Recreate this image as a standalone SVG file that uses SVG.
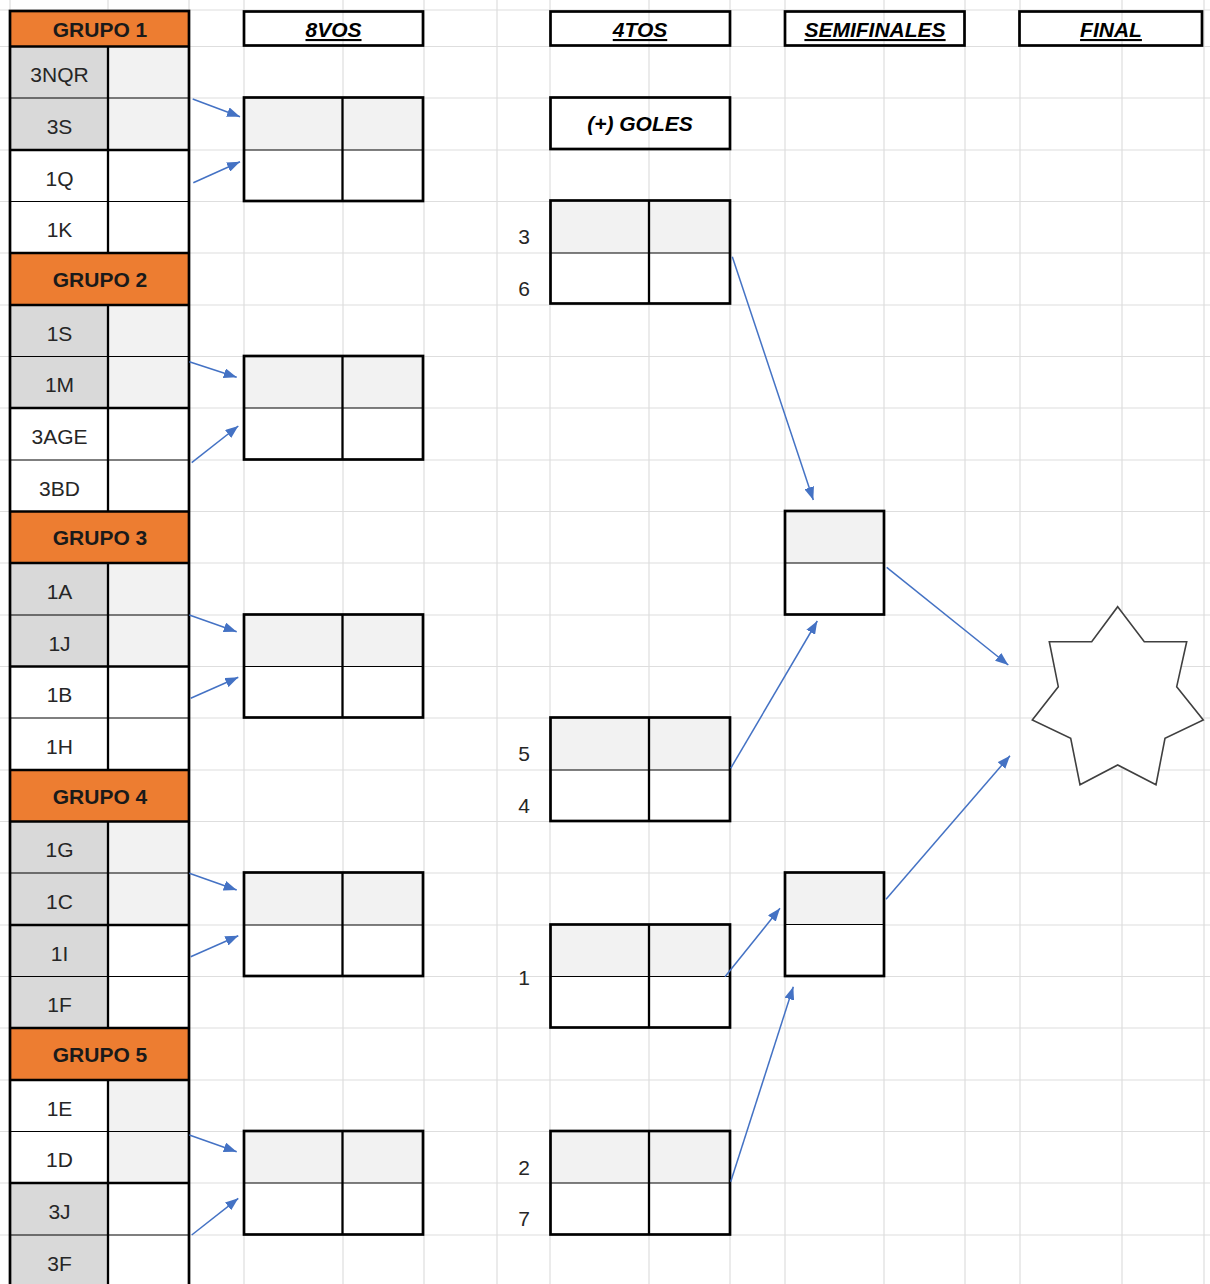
<svg xmlns="http://www.w3.org/2000/svg" width="1210" height="1284" viewBox="0 0 1210 1284">
<defs>
<marker id="ah" markerWidth="13" markerHeight="10" refX="13" refY="5" orient="auto" markerUnits="userSpaceOnUse"><path d="M0,0 L13,5 L0,10 z" fill="#4472C4"/></marker>
</defs>
<style>
.grid line{stroke:#dedede;stroke-width:1.2}
.hdr{fill:#ED7D31}
.lab{fill:#d9d9d9}
.val{fill:#f2f2f2}
.wh{fill:#ffffff}
.thick{stroke:#000;stroke-width:2.7;fill:none}
.mid{stroke:#000;stroke-width:2.3;fill:none}
.thin{stroke:#000;stroke-width:1.2;fill:none}
.t{font-family:"Liberation Sans",Arial,sans-serif;font-size:21px;fill:#262626;text-anchor:middle}
.b{font-weight:bold;fill:#1a1a1a}
.hi{font-weight:bold;font-style:italic;fill:#000}
.u{text-decoration:underline}
.arr{stroke:#4472C4;stroke-width:1.5;fill:none;marker-end:url(#ah)}
</style>
<rect x="0" y="0" width="1210" height="1284" fill="#ffffff"/>
<g class="grid">
<line x1="10" y1="0" x2="10" y2="1284"/><line x1="108" y1="0" x2="108" y2="1284"/><line x1="189" y1="0" x2="189" y2="1284"/><line x1="244" y1="0" x2="244" y2="1284"/><line x1="343" y1="0" x2="343" y2="1284"/><line x1="424" y1="0" x2="424" y2="1284"/><line x1="497" y1="0" x2="497" y2="1284"/><line x1="550" y1="0" x2="550" y2="1284"/><line x1="649" y1="0" x2="649" y2="1284"/><line x1="730" y1="0" x2="730" y2="1284"/><line x1="785" y1="0" x2="785" y2="1284"/><line x1="884" y1="0" x2="884" y2="1284"/><line x1="965" y1="0" x2="965" y2="1284"/><line x1="1020" y1="0" x2="1020" y2="1284"/><line x1="1122" y1="0" x2="1122" y2="1284"/><line x1="1204" y1="0" x2="1204" y2="1284"/>
<line x1="0" y1="10" x2="1210" y2="10"/><line x1="0" y1="46.5" x2="1210" y2="46.5"/><line x1="0" y1="98" x2="1210" y2="98"/><line x1="0" y1="150" x2="1210" y2="150"/><line x1="0" y1="201.5" x2="1210" y2="201.5"/><line x1="0" y1="253" x2="1210" y2="253"/><line x1="0" y1="305" x2="1210" y2="305"/><line x1="0" y1="356.5" x2="1210" y2="356.5"/><line x1="0" y1="408" x2="1210" y2="408"/><line x1="0" y1="460" x2="1210" y2="460"/><line x1="0" y1="511.5" x2="1210" y2="511.5"/><line x1="0" y1="563" x2="1210" y2="563"/><line x1="0" y1="615" x2="1210" y2="615"/><line x1="0" y1="666.5" x2="1210" y2="666.5"/><line x1="0" y1="718" x2="1210" y2="718"/><line x1="0" y1="770" x2="1210" y2="770"/><line x1="0" y1="821.5" x2="1210" y2="821.5"/><line x1="0" y1="873" x2="1210" y2="873"/><line x1="0" y1="925" x2="1210" y2="925"/><line x1="0" y1="976.5" x2="1210" y2="976.5"/><line x1="0" y1="1028" x2="1210" y2="1028"/><line x1="0" y1="1080" x2="1210" y2="1080"/><line x1="0" y1="1131.5" x2="1210" y2="1131.5"/><line x1="0" y1="1183" x2="1210" y2="1183"/><line x1="0" y1="1235" x2="1210" y2="1235"/>
</g>

<g id="grupo1">
<rect class="hdr" x="10" y="11" width="179" height="35.5"/>
<rect class="lab" x="10" y="46.5" width="98" height="103.5"/><rect class="val" x="108" y="46.5" width="81" height="103.5"/>
<rect class="wh" x="10" y="150" width="179" height="103"/>
<line class="thin" x1="10" y1="98" x2="189" y2="98"/><line class="mid" x1="10" y1="150" x2="189" y2="150"/><line class="thin" x1="10" y1="201.5" x2="189" y2="201.5"/>
<line class="mid" x1="108" y1="46.5" x2="108" y2="253"/>
<line class="thick" x1="10" y1="46.5" x2="189" y2="46.5"/>
<text class="t b" x="100" y="36.7">GRUPO 1</text>
<text class="t" x="59.5" y="82">3NQR</text><text class="t" x="59.5" y="134">3S</text><text class="t" x="59.5" y="186">1Q</text><text class="t" x="59.5" y="237">1K</text>
</g>

<g id="grupo2">
<rect class="hdr" x="10" y="253" width="179" height="52"/>
<rect class="lab" x="10" y="305" width="98" height="103"/><rect class="val" x="108" y="305" width="81" height="103"/>
<rect class="wh" x="10" y="408" width="179" height="103.5"/>
<line class="thin" x1="10" y1="356.5" x2="189" y2="356.5"/><line class="mid" x1="10" y1="408" x2="189" y2="408"/><line class="thin" x1="10" y1="460" x2="189" y2="460"/>
<line class="mid" x1="108" y1="305" x2="108" y2="511.5"/>
<line class="thick" x1="10" y1="253" x2="189" y2="253"/><line class="thick" x1="10" y1="305" x2="189" y2="305"/>
<text class="t b" x="100" y="286.7">GRUPO 2</text>
<text class="t" x="59.5" y="341">1S</text><text class="t" x="59.5" y="392">1M</text><text class="t" x="59.5" y="444">3AGE</text><text class="t" x="59.5" y="496">3BD</text>
</g>

<g id="grupo3">
<rect class="hdr" x="10" y="511.5" width="179" height="51.5"/>
<rect class="lab" x="10" y="563" width="98" height="103.5"/><rect class="val" x="108" y="563" width="81" height="103.5"/>
<rect class="wh" x="10" y="666.5" width="179" height="103.5"/>
<line class="thin" x1="10" y1="615" x2="189" y2="615"/><line class="mid" x1="10" y1="666.5" x2="189" y2="666.5"/><line class="thin" x1="10" y1="718" x2="189" y2="718"/>
<line class="mid" x1="108" y1="563" x2="108" y2="770"/>
<line class="thick" x1="10" y1="511.5" x2="189" y2="511.5"/><line class="thick" x1="10" y1="563" x2="189" y2="563"/>
<text class="t b" x="100" y="545">GRUPO 3</text>
<text class="t" x="59.5" y="599">1A</text><text class="t" x="59.5" y="651">1J</text><text class="t" x="59.5" y="702">1B</text><text class="t" x="59.5" y="754">1H</text>
</g>

<g id="grupo4">
<rect class="hdr" x="10" y="770" width="179" height="51.5"/>
<rect class="lab" x="10" y="821.5" width="98" height="206.5"/><rect class="val" x="108" y="821.5" width="81" height="103.5"/>
<rect class="wh" x="108" y="925" width="81" height="103"/>
<line class="thin" x1="10" y1="873" x2="189" y2="873"/><line class="mid" x1="10" y1="925" x2="189" y2="925"/><line class="thin" x1="10" y1="976.5" x2="189" y2="976.5"/>
<line class="mid" x1="108" y1="821.5" x2="108" y2="1028"/>
<line class="thick" x1="10" y1="770" x2="189" y2="770"/><line class="thick" x1="10" y1="821.5" x2="189" y2="821.5"/>
<text class="t b" x="100" y="803.5">GRUPO 4</text>
<text class="t" x="59.5" y="857">1G</text><text class="t" x="59.5" y="909">1C</text><text class="t" x="59.5" y="961">1I</text><text class="t" x="59.5" y="1012">1F</text>
</g>

<g id="grupo5">
<rect class="hdr" x="10" y="1028" width="179" height="52"/>
<rect class="wh" x="10" y="1080" width="98" height="103"/><rect class="val" x="108" y="1080" width="81" height="103"/>
<rect class="lab" x="10" y="1183" width="98" height="110"/><rect class="wh" x="108" y="1183" width="81" height="110"/>
<line class="thin" x1="10" y1="1131.5" x2="189" y2="1131.5"/><line class="mid" x1="10" y1="1183" x2="189" y2="1183"/><line class="thin" x1="10" y1="1235" x2="189" y2="1235"/>
<line class="mid" x1="108" y1="1080" x2="108" y2="1290"/>
<line class="thick" x1="10" y1="1028" x2="189" y2="1028"/><line class="thick" x1="10" y1="1080" x2="189" y2="1080"/>
<text class="t b" x="100" y="1062">GRUPO 5</text>
<text class="t" x="59.5" y="1116">1E</text><text class="t" x="59.5" y="1167">1D</text><text class="t" x="59.5" y="1219">3J</text><text class="t" x="59.5" y="1271">3F</text>
</g>
<rect class="thick" x="10" y="11" width="179" height="1290"/>

<g id="h-8vos"><rect class="thick" x="244" y="11.5" width="179" height="34" fill="#fff"/><text class="t hi u" x="333.5" y="37">8VOS</text></g>
<g id="h-4tos"><rect class="thick" x="550.5" y="11.5" width="179.5" height="34" fill="#fff"/><text class="t hi u" x="640" y="37">4TOS</text></g>
<g id="h-semis"><rect class="thick" x="785" y="11.5" width="179.5" height="34" fill="#fff"/><text class="t hi u" x="875" y="37">SEMIFINALES</text></g>
<g id="h-final"><rect class="thick" x="1019.5" y="11.5" width="182.5" height="34" fill="#fff"/><text class="t hi u" x="1111" y="37">FINAL</text></g>
<g id="goles"><rect class="thick" x="550.5" y="97.5" width="179.5" height="51.5" fill="#fff"/><text class="t hi" x="640" y="131">(+) GOLES</text></g>

<g id="o1"><rect class="val" x="244" y="98" width="179" height="52"/><rect class="wh" x="244" y="150" width="179" height="51.5"/><line class="thin" x1="244" y1="150" x2="423" y2="150"/><line class="mid" x1="342.5" y1="98" x2="342.5" y2="201.5"/><rect class="thick" x="244" y="97.5" width="179" height="103.5"/></g>
<g id="o2"><rect class="val" x="244" y="356.5" width="179" height="51.5"/><rect class="wh" x="244" y="408" width="179" height="52"/><line class="thin" x1="244" y1="408" x2="423" y2="408"/><line class="mid" x1="342.5" y1="356.5" x2="342.5" y2="460"/><rect class="thick" x="244" y="356" width="179" height="103.5"/></g>
<g id="o3"><rect class="val" x="244" y="615" width="179" height="51.5"/><rect class="wh" x="244" y="666.5" width="179" height="51.5"/><line class="thin" x1="244" y1="666.5" x2="423" y2="666.5"/><line class="mid" x1="342.5" y1="615" x2="342.5" y2="718"/><rect class="thick" x="244" y="614.5" width="179" height="103"/></g>
<g id="o4"><rect class="val" x="244" y="873" width="179" height="52"/><rect class="wh" x="244" y="925" width="179" height="51.5"/><line class="thin" x1="244" y1="925" x2="423" y2="925"/><line class="mid" x1="342.5" y1="873" x2="342.5" y2="976.5"/><rect class="thick" x="244" y="872.5" width="179" height="103.5"/></g>
<g id="o5"><rect class="val" x="244" y="1131.5" width="179" height="51.5"/><rect class="wh" x="244" y="1183" width="179" height="52"/><line class="thin" x1="244" y1="1183" x2="423" y2="1183"/><line class="mid" x1="342.5" y1="1131.5" x2="342.5" y2="1235"/><rect class="thick" x="244" y="1131" width="179" height="103.5"/></g>

<g id="q1"><rect class="val" x="550.5" y="201" width="179.5" height="52"/><rect class="wh" x="550.5" y="253" width="179.5" height="51"/><line class="thin" x1="550.5" y1="253" x2="730" y2="253"/><line class="mid" x1="649" y1="201" x2="649" y2="304"/><rect class="thick" x="550.5" y="200.5" width="179.5" height="103"/><text class="t" x="524" y="244">3</text><text class="t" x="524" y="296">6</text></g>
<g id="q2"><rect class="val" x="550.5" y="718" width="179.5" height="52"/><rect class="wh" x="550.5" y="770" width="179.5" height="51.5"/><line class="thin" x1="550.5" y1="770" x2="730" y2="770"/><line class="mid" x1="649" y1="718" x2="649" y2="821.5"/><rect class="thick" x="550.5" y="717.5" width="179.5" height="103.5"/><text class="t" x="524" y="761">5</text><text class="t" x="524" y="813">4</text></g>
<g id="q3"><rect class="val" x="550.5" y="925" width="179.5" height="51.5"/><rect class="wh" x="550.5" y="976.5" width="179.5" height="51.5"/><line class="thin" x1="550.5" y1="976.5" x2="730" y2="976.5"/><line class="mid" x1="649" y1="925" x2="649" y2="1028"/><rect class="thick" x="550.5" y="924.5" width="179.5" height="103"/><text class="t" x="524" y="985">1</text></g>
<g id="q4"><rect class="val" x="550.5" y="1131.5" width="179.5" height="51.5"/><rect class="wh" x="550.5" y="1183" width="179.5" height="52"/><line class="thin" x1="550.5" y1="1183" x2="730" y2="1183"/><line class="mid" x1="649" y1="1131.5" x2="649" y2="1235"/><rect class="thick" x="550.5" y="1131" width="179.5" height="103.5"/><text class="t" x="524" y="1175">2</text><text class="t" x="524" y="1226">7</text></g>

<g id="s1"><rect class="val" x="785" y="511.5" width="99" height="51.5"/><rect class="wh" x="785" y="563" width="99" height="51.5"/><line class="thin" x1="785" y1="563" x2="884" y2="563"/><rect class="thick" x="785" y="511" width="99" height="103.5"/></g>
<g id="s2"><rect class="val" x="785" y="873" width="99" height="51.5"/><rect class="wh" x="785" y="924.5" width="99" height="52"/><line class="thin" x1="785" y1="924.5" x2="884" y2="924.5"/><rect class="thick" x="785" y="872.5" width="99" height="103.5"/></g>

<g id="campeon"><polygon points="1117.7,606.7 1144.3,641.7 1186.7,641.7 1176.7,686.7 1203.3,720 1165,738.3 1156,784.7 1117.7,765 1080,784.7 1070.7,738.3 1032.3,720 1058.3,686.7 1049.3,641.7 1091.7,641.7" fill="#ffffff" stroke="#404040" stroke-width="1.6" stroke-linejoin="miter"/></g>

<g id="connectors">
<line class="arr" x1="192.7" y1="99" x2="240" y2="116.7"/>
<line class="arr" x1="193.3" y1="182.7" x2="240" y2="161.7"/>
<line class="arr" x1="189.3" y1="361.7" x2="236.7" y2="377.3"/>
<line class="arr" x1="191.7" y1="462.7" x2="238.3" y2="426"/>
<line class="arr" x1="189.3" y1="615" x2="236.7" y2="631.7"/>
<line class="arr" x1="190.7" y1="698.3" x2="238.3" y2="677.3"/>
<line class="arr" x1="189.3" y1="873.3" x2="236.7" y2="890"/>
<line class="arr" x1="190.7" y1="956.7" x2="238.3" y2="935.7"/>
<line class="arr" x1="189.3" y1="1135" x2="236.7" y2="1151.7"/>
<line class="arr" x1="191.7" y1="1235" x2="238.3" y2="1198.3"/>
<line class="arr" x1="732.3" y1="256.7" x2="813.3" y2="500"/>
<line class="arr" x1="730.7" y1="768.3" x2="817.3" y2="621"/>
<line class="arr" x1="725" y1="976.7" x2="780" y2="908.3"/>
<line class="arr" x1="730.7" y1="1181.7" x2="793.3" y2="986.7"/>
<line class="arr" x1="886.7" y1="567.3" x2="1008.3" y2="665"/>
<line class="arr" x1="886" y1="899.3" x2="1010" y2="755.7"/>
</g>
</svg>
